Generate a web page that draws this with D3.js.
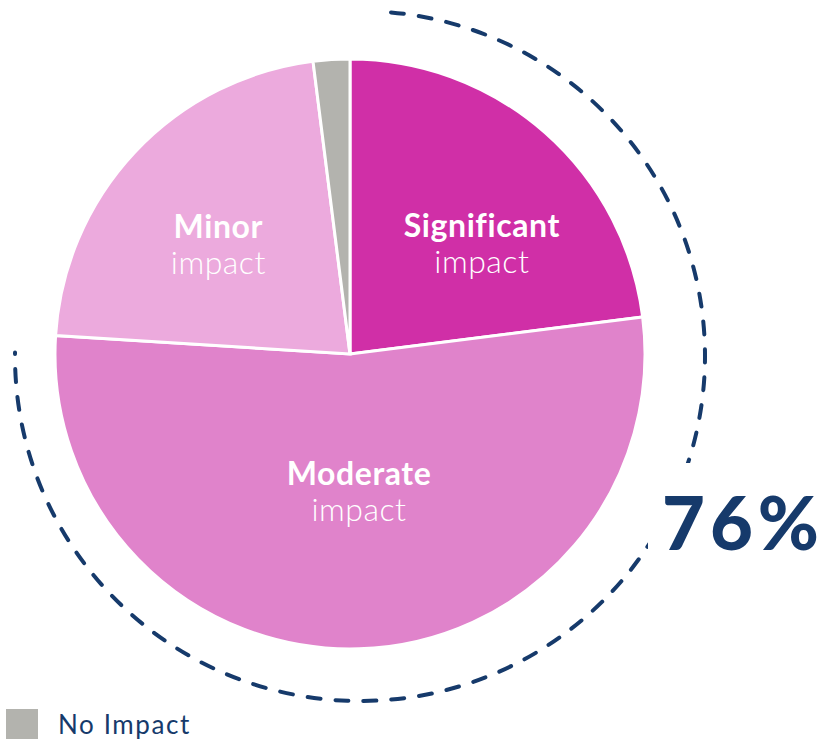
<!DOCTYPE html>
<meta charset="utf-8">
<script src="https://d3js.org/d3.v7.min.js"></script>
<style>
  body { margin: 0; background: #fff; }
  text { font-family: Lato, "Open Sans", sans-serif; }
</style>
<div id="chart"></div>
<script>
// impact shares, clockwise from 12 o'clock
const categories = ["Significant", "Moderate", "Minor", "No Impact"];
const values = [23, 53, 22, 2];
const sublabel = "impact";
const highlight = "76%";

const width = 828
const height = 741
const cx = 350, cy = 354, radius = 295

const color = d3.scaleOrdinal()
  .domain(categories)
  .range(["#d02fa7", "#e083cb", "#ecaadd", "#b3b3ae"]);

// small nudges so labels sit where the original puts them
const nudge = { "Significant": [26, 3], "Moderate": [4, -29], "Minor": [-15, -6] }

const svg = d3.select("#chart")
  .append("svg")
    .attr("width", width)
    .attr("height", height)

const pie = d3.pie().sort(null).value(d => d.value)
const slices = pie(categories.map((c, i) => ({ name: c, value: values[i] })))

const arc = d3.arc().innerRadius(0).outerRadius(radius)
const labelArc = d3.arc().innerRadius(160).outerRadius(160)

// dashed arc round significant + moderate (single pass, so the dashes don't double up)
const ring = d3.path()
ring.arc(0, 0, 345, 0.09 - Math.PI / 2, Math.PI + 0.01)

svg.append("path")
  .attr("transform", `translate(360,356)`)
  .attr("d", ring.toString())
  .style("fill", "none")
  .style("stroke", "#163a6b")
  .style("stroke-width", 4)
  .style("stroke-linecap", "round")
  .style("stroke-dasharray", "13 15")

const g = svg.append("g").attr("transform", `translate(${cx},${cy})`)

g.selectAll("path")
  .data(slices)
  .join("path")
    .attr("d", arc)
    .style("fill", d => color(d.data.name))
    .style("stroke", "white")
    .style("stroke-width", 3)

// labels for the three big slices
const lab = g.selectAll("g.lab")
  .data(slices.filter(d => d.data.name != "No Impact"))
  .join("g")
    .attr("class", "lab")
    .attr("transform", d => {
      const c = labelArc.centroid(d)
      const n = nudge[d.data.name]
      return `translate(${c[0] + n[0]},${c[1] + n[1]})`
    })

lab.append("text")
  .attr("text-anchor", "middle")
  .attr("y", 0)
  .style("fill", "white")
  .style("font-size", "32px")
  .style("font-weight", "700")
  .style("letter-spacing", "0.6px")
  .text(d => d.data.name)

lab.append("text")
  .attr("text-anchor", "middle")
  .attr("y", 36)
  .style("fill", "white")
  .style("font-size", "32px")
  .style("font-weight", "300")
  .style("letter-spacing", "0.5px")
  .text(sublabel)

// big share number, on a white patch that breaks the dashed ring
const bigG = svg.append("g")
const patch = bigG.append("rect").style("fill", "white")
const big = bigG.append("text")
  .attr("x", 662).attr("y", 550)
  .style("fill", "#163a6b")
  .style("font-size", "74px")
  .style("font-weight", "900")
  .style("letter-spacing", "5px")
  .text(highlight)

const bb = big.node().getBBox()
patch
  .attr("x", bb.x - 14).attr("y", bb.y - 14)
  .attr("width", bb.width + 28).attr("height", bb.height + 22)

// legend
svg.append("rect")
  .attr("x", 6).attr("y", 709)
  .attr("width", 32).attr("height", 30)
  .style("fill", color("No Impact"))

svg.append("text")
  .attr("x", 58).attr("y", 734)
  .style("fill", "#163a6b")
  .style("font-size", "26px")
  .style("letter-spacing", "1.6px")
  .text("No Impact")
</script>
